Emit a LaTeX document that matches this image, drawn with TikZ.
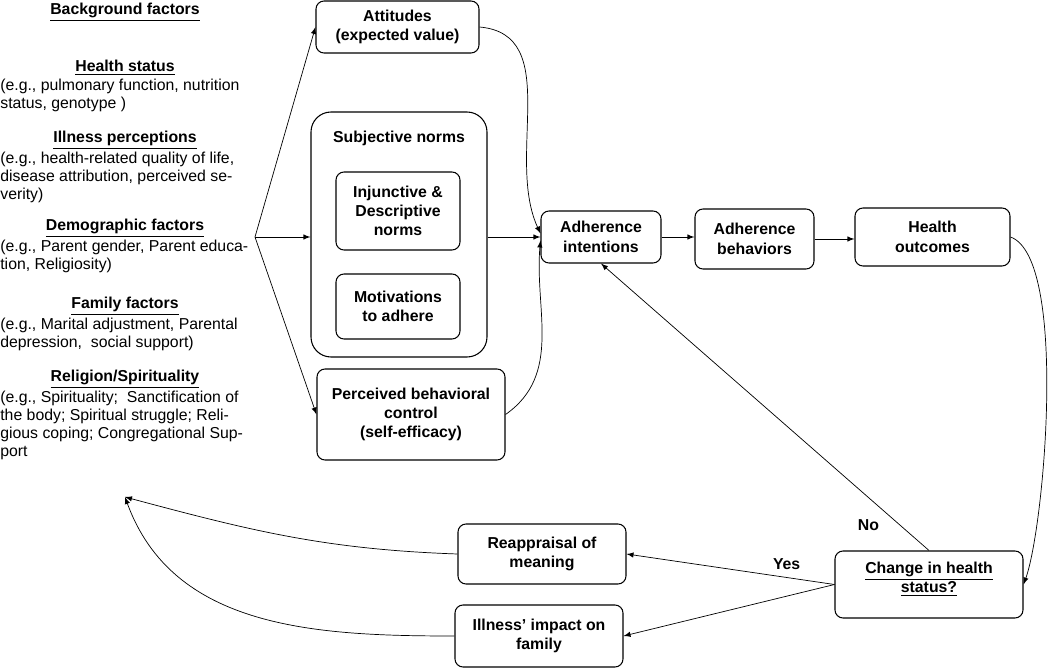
\documentclass[tikz,border=0pt]{standalone}
\usepackage{fontspec}
\setmainfont{Liberation Sans}
\usepackage{tikz}
\usetikzlibrary{calc}
\usetikzlibrary{arrows}
\tikzset{%
  myedge/.style={->, >=latex, thin},
  mybox/.style={draw=black, line width=0.6pt, rounded corners=0.16cm, align=center, inner sep=2pt,
    font=\fontsize{9}{11}\selectfont\bfseries},
  mytitle/.style={inner sep=0pt, font=\fontsize{9}{10.2}\selectfont\bfseries},
  mytext/.style={inner sep=0pt, align=left, anchor=north west, yshift=-1.5pt,
    font=\fontsize{9}{10.2}\selectfont}
}

\begin{document}
\begin{tikzpicture}
  \useasboundingbox (0,0) rectangle (21,-13.4);

% background factors
\node [mytitle] (bg) at (2.5,-0.24) {\underline{Background factors}};

\node [mytitle] (hs) at (2.5,-1.36) {\underline{Health status}};
\node [mytext] (hstext) at (hs.south -| 0,0) {(e.g., pulmonary function, nutrition\\status, genotype )};

\node [mytitle] (ip) at (2.5,-2.80) {\underline{Illness perceptions}};
\node [mytext] (iptext) at (ip.south -| 0,0) {(e.g., health-related quality of life,\\disease attribution, perceived se-\\verity)};

\node [mytitle] (df) at (2.5,-4.56) {\underline{Demographic factors}};
\node [mytext] (dftext) at (df.south -| 0,0) {(e.g., Parent gender, Parent educa-\\tion, Religiosity)};

\node [mytitle] (ff) at (2.5,-6.12) {\underline{Family factors}};
\node [mytext] (fftext) at (ff.south -| 0,0) {(e.g., Marital adjustment, Parental\\depression,\ \ social support)};

\node [mytitle] (rs) at (2.5,-7.58) {\underline{Religion/Spirituality}};
\node [mytext] (rstext) at (rs.south -| 0,0) {(e.g., Spirituality;\ \ Sanctification of\\the body; Spiritual struggle; Reli-\\gious coping; Congregational Sup-\\port};

% boxes
\node [mybox, minimum width=3.26cm, minimum height=1.04cm] (att) at (7.95,-0.54) {Attitudes\\(expected value)};
\node [mybox, minimum width=3.52cm, minimum height=4.9cm, rounded corners=0.4cm,
  label={[mytitle, anchor=north, yshift=-0.38cm]north:Subjective norms}] (subj) at (7.98,-4.69) {};
\node [mybox, minimum width=2.48cm, minimum height=1.56cm] (inj) at (7.96,-4.22) {Injunctive \&\\Descriptive\\norms};
\node [mybox, minimum width=2.48cm, minimum height=1.3cm] (mot) at (7.96,-6.13) {Motivations\\to adhere};
\node [mybox, minimum width=3.76cm, minimum height=1.82cm] (pbc) at (8.22,-8.29) {Perceived behavioral\\control\\(self-efficacy)};

\node [mybox, minimum width=2.4cm, minimum height=1.04cm] (ai) at (12.02,-4.74) {Adherence\\intentions};
\node [mybox, minimum width=2.38cm, minimum height=1.2cm] (ab) at (15.09,-4.78) {Adherence\\behaviors};
\node [mybox, minimum width=3.1cm, minimum height=1.16cm] (ho) at (18.65,-4.74) {Health\\outcomes};

\node [mybox, minimum width=3.76cm, minimum height=1.34cm, text depth=0.3cm] (chg) at (18.58,-11.69) {\underline{Change in health}\\\underline{status?}};
\node [mybox, minimum width=3.36cm, minimum height=1.2cm] (reap) at (10.84,-11.08) {Reappraisal of\\meaning};
\node [mybox, minimum width=3.36cm, minimum height=1.24cm] (imp) at (10.78,-12.72) {Illness’ impact on\\family};

\coordinate (fan) at (5.1,-4.74);
\coordinate (back) at (2.5,-9.94);

% arrows
\draw [myedge] (fan) -- (att.west);
\draw [myedge] (fan) -- (fan -| subj.west);
\draw [myedge] (fan) -- (pbc.west);

\draw [myedge] (subj.east |- ai.west) -- (ai.west);
\draw [myedge] (att.east) to [out=-5, in=115] ([yshift=2pt]ai.west);
\draw [myedge] (pbc.east) to [out=35, in=-95] ([yshift=-2pt]ai.west);

\draw [myedge] (ai.east) -- (ai.east -| ab.west);
\draw [myedge] (ab.east) -- (ab.east -| ho.west);
\draw [myedge] (ho.east) to [out=-20, in=70, looseness=0.45] (chg.east);

\draw [myedge] (chg.north) -- (ai.south) node [mytitle, pos=0.09, xshift=-0.62cm] {No};
\draw [myedge] (chg.west) -- (reap.east) node [mytitle, pos=0.23, above=4pt] {Yes};
\draw [myedge] (chg.west) -- (imp.east);

\draw [myedge] (reap.west) to [out=178, in=-15] (back);
\draw [myedge] (imp.west) to [out=180, in=-70] (back);
\end{tikzpicture}
\end{document}
